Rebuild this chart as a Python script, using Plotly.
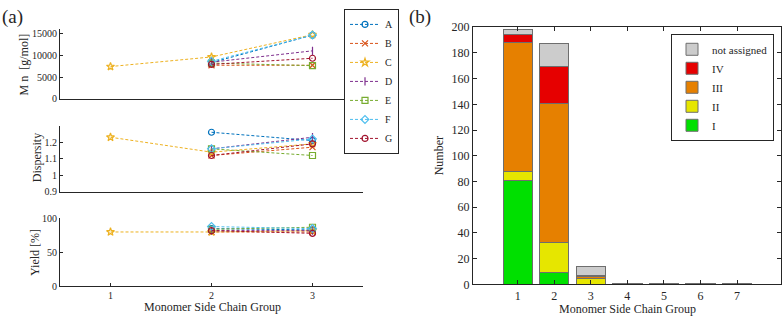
import plotly.graph_objects as go

# ---------- data: panel (a) ----------
groups = [1, 2, 3]
series_names = ["A", "B", "C", "D", "E", "F", "G"]
mn = {
    "A": [None, 8300, 14600],
    "B": [None, 7700, 7700],
    "C": [7400, 9600, 14700],
    "D": [None, 8400, 11000],
    "E": [None, 8200, 7600],
    "F": [None, 8600, 14600],
    "G": [None, 7900, 9300],
}
dispersity = {
    "A": [None, 1.26, 1.21],
    "B": [None, 1.12, 1.17],
    "C": [1.23, 1.14, 1.19],
    "D": [None, 1.16, 1.23],
    "E": [None, 1.16, 1.12],
    "F": [None, 1.16, 1.22],
    "G": [None, 1.12, 1.19],
}
yield_pct = {
    "A": [None, 85, 83],
    "B": [None, 80, 80],
    "C": [80, 80, 82],
    "D": [None, 82, 82],
    "E": [None, 84, 87],
    "F": [None, 88, 85],
    "G": [None, 82, 78],
}
mn_ticks = [0, 5000, 10000, 15000]
disp_ticks = [0.9, 1.0, 1.1, 1.2]
disp_ticktext = ["0.9", "1", "1.1", "1.2"]
yield_ticks = [0, 50, 100]

# ---------- data: panel (b) ----------
bar_groups = [1, 2, 3, 4, 5, 6, 7]
class_names = ["I", "II", "III", "IV", "not assigned"]
counts = {
    "I": [81, 9, 0, 0, 0, 0, 0],
    "II": [7, 24, 5, 0, 0, 0, 0],
    "III": [100, 108, 1, 1, 1, 1, 0],
    "IV": [6, 28, 1, 0, 0, 0, 0],
    "not assigned": [4, 18, 7, 0, 0, 0, 1],
}

# ---------- styles ----------
line_colors = {
    "A": "#0072BD", "B": "#D95319", "C": "#EDB120", "D": "#7E2F8E",
    "E": "#77AC30", "F": "#4DBEEE", "G": "#A2142F",
}
symbols = {
    "A": "circle-open", "B": "x-thin-open", "C": "star-open",
    "D": "line-ns-open", "E": "square-open", "F": "diamond-open",
    "G": "circle-open",
}
bar_colors = {
    "I": "#00E000", "II": "#E6E600", "III": "#E68000",
    "IV": "#E60000", "not assigned": "#CCCCCC",
}
FONT = "Liberation Serif"
AX = "#262626"

fig = go.Figure()

panels = [(mn, "x", "y", True), (dispersity, "x2", "y2", False), (yield_pct, "x3", "y3", False)]
for data, xa, ya, show in panels:
    for name in series_names:
        fig.add_trace(go.Scatter(
            x=groups, y=data[name], xaxis=xa, yaxis=ya, name=name,
            mode="lines+markers", showlegend=show, legend="legend",
            line=dict(color=line_colors[name], width=1, dash="3px,2px"),
            marker=dict(symbol=symbols[name], size=6, color=line_colors[name],
                        line=dict(width=1.2, color=line_colors[name])),
            connectgaps=False,
        ))

for cname in class_names:
    fig.add_trace(go.Bar(
        x=bar_groups, y=counts[cname], name=cname, xaxis="x4", yaxis="y4",
        width=0.8, legend="legend2",
        marker=dict(color=bar_colors[cname], line=dict(color="#6E6E6E", width=1)),
    ))

xa_dom = [60 / 782, 363 / 782]
common_x = dict(range=[0.5, 3.5], domain=xa_dom, showline=True, linecolor=AX,
                linewidth=1, showgrid=False, zeroline=False, tickvals=groups)
common_y = dict(showline=True, linecolor=AX, linewidth=1, showgrid=False,
                zeroline=False, ticks="inside", ticklen=3, tickcolor=AX,
                tickfont=dict(size=10, color=AX, family=FONT))

def ydom(top_px, bot_px):
    return [1 - bot_px / 324, 1 - top_px / 324]

fig.update_layout(
    width=782, height=324, margin=dict(l=0, r=0, t=0, b=0),
    paper_bgcolor="white", plot_bgcolor="white",
    font=dict(family=FONT, color=AX, size=11),
    barmode="stack",
    xaxis=dict(common_x, anchor="y", showticklabels=False, ticks=""),
    yaxis=dict(common_y, domain=ydom(23, 96), range=[0, 16000],
               tickvals=mn_ticks, ticktext=[str(v) for v in mn_ticks], anchor="x"),
    xaxis2=dict(common_x, anchor="y2", showticklabels=False, ticks=""),
    yaxis2=dict(common_y, domain=ydom(124, 193.3), range=[0.9, 1.3],
                tickvals=disp_ticks, ticktext=disp_ticktext, anchor="x2"),
    xaxis3=dict(common_x, anchor="y3", ticks="inside", ticklen=3, tickcolor=AX,
                tickfont=dict(size=10, color=AX, family=FONT)),
    yaxis3=dict(common_y, domain=ydom(221, 291.7), range=[0, 100],
                tickvals=yield_ticks, anchor="x3"),
    xaxis4=dict(domain=[473 / 782, 781 / 782], range=[-0.22, 8.2], anchor="y4",
                showline=True, mirror="ticks", linecolor=AX, linewidth=1,
                ticks="inside", ticklen=4, tickcolor=AX, tickvals=bar_groups,
                showgrid=False, zeroline=False,
                tickfont=dict(size=12, color=AX, family=FONT)),
    yaxis4=dict(domain=ydom(21, 290), range=[0, 200], anchor="x4",
                showline=True, mirror="ticks", linecolor=AX, linewidth=1,
                ticks="inside", ticklen=4, tickcolor=AX, dtick=20,
                showgrid=False, zeroline=False,
                tickfont=dict(size=12, color=AX, family=FONT)),
    legend=dict(x=399 / 782, xanchor="right", y=1 - 2 / 324, yanchor="top",
                bordercolor=AX, borderwidth=1, bgcolor="white",
                font=dict(size=10, family=FONT, color=AX),
                itemwidth=30, tracegroupgap=0),
    legend2=dict(x=774 / 782, xanchor="right", y=1 - 28 / 324, yanchor="top",
                 bordercolor=AX, borderwidth=1, bgcolor="white",
                 traceorder="reversed",
                 font=dict(size=11, family=FONT, color=AX),
                 itemwidth=30, tracegroupgap=0),
)

def ann(text, x_px, y_px, size=12, angle=0, xanchor="center", yanchor="middle"):
    fig.add_annotation(text=text, x=x_px / 782, y=1 - y_px / 324, xref="paper",
                       yref="paper", showarrow=False, textangle=angle,
                       xanchor=xanchor, yanchor=yanchor,
                       font=dict(size=size, family=FONT, color=AX))

ann("(a)", 0, 10, size=19, xanchor="left")
ann("(b)", 407, 10, size=19, xanchor="left")
ann("M n  [g/mol]", 24, 60, angle=-90)
ann("Dispersity", 37, 158, angle=-90)
ann("Yield [%]", 35, 257, angle=-90)
ann("Monomer Side Chain Group", 212, 314)
ann("Number", 439, 155, angle=-90)
ann("Monomer Side Chain Group", 627, 316)

fig.write_html("out.html")
